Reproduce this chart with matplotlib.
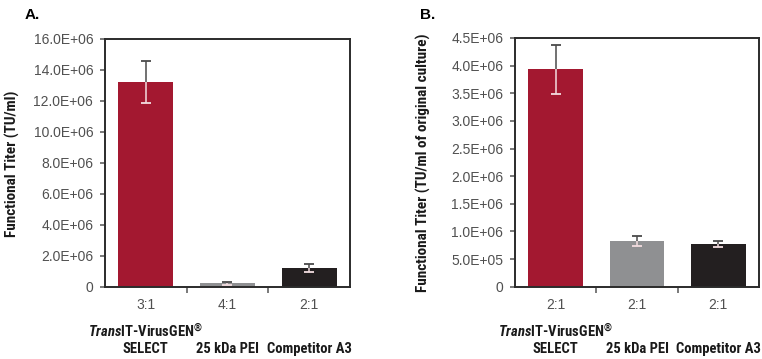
import numpy as np
import matplotlib
matplotlib.use("Agg")
import matplotlib.pyplot as plt
import matplotlib.transforms as mtransforms

# values
ratios_a = ["3:1", "4:1", "2:1"]
titer_a = [13.2e6, 0.25e6, 1.22e6]
err_a = [1.35e6, 0.10e6, 0.25e6]

ratios_b = ["2:1", "2:1", "2:1"]
titer_b = [3.93e6, 0.82e6, 0.77e6]
err_b = [0.45e6, 0.09e6, 0.05e6]

yticks_a = [0, 2e6, 4e6, 6e6, 8e6, 10e6, 12e6, 14e6, 16e6]
yticklabels_a = ["0", "2.0E+06", "4.0E+06", "6.0E+06", "8.0E+06",
                 "10.0E+06", "12.0E+06", "14.0E+06", "16.0E+06"]
yticks_b = [0, 0.5e6, 1e6, 1.5e6, 2e6, 2.5e6, 3e6, 3.5e6, 4e6, 4.5e6]
yticklabels_b = ["0", "5.0E+05", "1.0E+06", "1.5E+06", "2.0E+06",
                 "2.5E+06", "3.0E+06", "3.5E+06", "4.0E+06", "4.5E+06"]

reagent_line1 = [r"$\mathit{Trans}$IT-VirusGEN$^{®}$", "", ""]
reagent_line2 = ["SELECT", "25 kDa PEI", "Competitor A3"]
colors = ["#A31830", "#8F9092", "#231F20"]

plt.rcParams["mathtext.fontset"] = "custom"
plt.rcParams["mathtext.rm"] = "Roboto Condensed:bold"
plt.rcParams["mathtext.it"] = "Roboto Condensed:italic:bold"

TICK_FAMILY = "Liberation Sans"
BOLD_FAMILY = "Roboto Condensed"

fig = plt.figure(figsize=(7.62, 3.59), dpi=100)
ax_a = fig.add_axes([0.1378, 0.2006, 0.3215, 0.6908])
ax_b = fig.add_axes([0.6759, 0.2014, 0.3202, 0.6928])


def draw_panel(ax, vals, errs, ratios, yticks, yticklabels):
    x = np.arange(len(vals))
    vals = np.array(vals)
    errs = np.array(errs)
    ax.bar(x, vals, width=0.67, color=colors, zorder=2)
    # upper half of error bar dark, lower half (over the bar) light
    zeros = np.zeros_like(errs)
    ax.errorbar(x, vals, yerr=[zeros, errs], fmt="none", ecolor="#4a4a4a",
                elinewidth=1.1, capsize=0, zorder=3)
    ax.plot(x, vals + errs, ls="none", marker="_", ms=7.5, mew=1.3, color="#4a4a4a", zorder=3)
    ax.errorbar(x, vals, yerr=[errs, zeros], fmt="none", ecolor="#f3dde0",
                elinewidth=1.1, capsize=0, zorder=3)
    ax.plot(x, vals - errs, ls="none", marker="_", ms=7.5, mew=1.3, color="#f3dde0", zorder=3)

    ax.set_xlim(-0.5, len(vals) - 0.5)
    ax.set_ylim(yticks[0], yticks[-1])
    ax.set_yticks(yticks)
    ax.set_yticklabels(yticklabels)
    ax.set_xticks(x)
    ax.set_xticklabels(ratios)
    for lab in ax.get_xticklabels() + ax.get_yticklabels():
        lab.set_fontfamily(TICK_FAMILY)
        lab.set_fontsize(10)
        lab.set_color("#505050")
    ax.tick_params(axis="x", length=0, pad=8)
    ax.set_xticks(x[:-1] + 0.5, minor=True)
    ax.tick_params(axis="x", which="minor", length=4, width=1.1, color="#555555", direction="out")
    ax.tick_params(axis="y", length=3.5, width=1.1, color="#555555", direction="out", pad=5)
    for s in ax.spines.values():
        s.set_linewidth(1.4)
        s.set_color("#2b2b2b")

    trans = mtransforms.blended_transform_factory(ax.transData, fig.transFigure)
    for xi, l1, l2 in zip(x, reagent_line1, reagent_line2):
        if l1:
            ax.text(xi, 1 - 331 / 359, l1, transform=trans, ha="center", va="center",
                    family=BOLD_FAMILY, weight="bold", size=10.5, color="#1a1a1a")
        ax.text(xi, 1 - 349 / 359, l2, transform=trans, ha="center", va="center",
                family=BOLD_FAMILY, weight="bold", size=10.5, color="#1a1a1a")


draw_panel(ax_a, titer_a, err_a, ratios_a, yticks_a, yticklabels_a)
draw_panel(ax_b, titer_b, err_b, ratios_b, yticks_b, yticklabels_b)

fig.text(12.5 / 762, 1 - 164 / 359, "Functional Titer (TU/ml)", rotation=90,
         ha="center", va="center", family=BOLD_FAMILY, weight="bold", size=11, color="#1a1a1a")
fig.text(423 / 762, 1 - 162.5 / 359, "Functional Titer (TU/ml of original culture)", rotation=90,
         ha="center", va="center", family=BOLD_FAMILY, weight="bold", size=11, color="#1a1a1a")

fig.text(25 / 762, 1 - 15 / 359, "A.", family="Liberation Sans", weight="bold", size=11, va="center")
fig.text(420 / 762, 1 - 15 / 359, "B.", family="Liberation Sans", weight="bold", size=11, va="center")

fig.savefig("out.png", dpi=100)
